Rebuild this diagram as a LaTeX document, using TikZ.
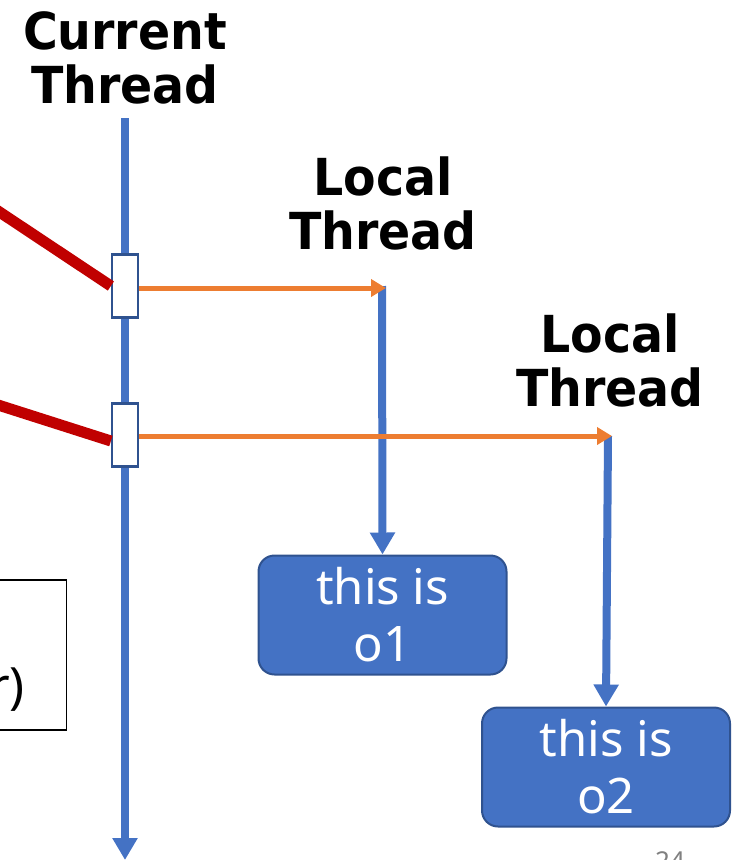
\documentclass[tikz,border=0pt]{standalone}
\usepackage{fontspec}
\setmainfont{Noto Sans}
\newfontfamily\titlefont{DejaVu Sans}[FakeStretch=0.93]
\usetikzlibrary{arrows.meta}
\definecolor{tblue}{HTML}{4472C4}
\definecolor{tdark}{HTML}{2F528F}
\definecolor{tred}{HTML}{C00000}
\definecolor{torange}{HTML}{ED7D31}
\tikzset{
  lifeline/.style={draw=tblue, line width=8pt},
  lifearrow/.style={lifeline, -{Triangle[length=22pt,width=24pt]}},
  actbox/.style={draw=tdark, fill=white, line width=2.2pt, minimum width=26pt, minimum height=63pt, inner sep=0pt},
  call/.style={draw=tred, line width=11pt},
  spawn/.style={draw=torange, line width=5pt, -{Triangle[length=15pt,width=17pt]}},
  title/.style={font=\titlefont\bfseries\fontsize{51}{54}\selectfont, align=center, inner sep=0pt},
  objbox/.style={draw=tdark, fill=tblue, line width=2pt, rounded corners=16pt, minimum width=248pt, minimum height=119pt, text=white, font=\fontsize{49}{57}\selectfont, align=center, inner sep=0pt},
}
\begin{document}
\begin{tikzpicture}[x=1pt,y=-1pt]
\useasboundingbox (0,0) rectangle (732,860);
\clip (0,0) rectangle (732,860);
% titles
\node[title] (ct) at (125,58) {Current\\Thread};
\node[title] (lt1) at (383,203) {Local\\Thread};
\node[title] (lt2) at (610,360) {Local\\Thread};
% left box (cut off)
\node[draw=black, line width=1.5pt, minimum width=120pt, minimum height=150pt, inner sep=0pt, anchor=east] (lb) at (67,655) {};
\node[font=\fontsize{50}{55}\selectfont, anchor=east, inner sep=0pt] (lbt) at (25,690) {r)};
% current thread lifeline
\coordinate (ctop) at (125,118);
\coordinate (cbot) at (125,860);
\draw[lifearrow] (ctop) -- (cbot);
% activation boxes
\node[actbox] (a1) at (125,286) {};
\node[actbox] (a2) at (125,435) {};
% red calls
\coordinate (r1) at (-5,209);
\coordinate (r2) at (-5,404);
\draw[call] (r1) -- (a1.west);
\draw[call] (r2) -- ([yshift=-6pt]a2.west);
% local thread lines
\coordinate (l1top) at (382,286);
\coordinate (l2top) at (608,436);
\node[objbox] (o1) at (382.5,615) {this is\\o1};
\node[objbox] (o2) at (606,767) {this is\\o2};
\draw[lifearrow] (l1top) -- (o1.north);
\draw[lifearrow] (l2top) -- (o2.north);
% spawn arrows
\draw[spawn] ([yshift=-2pt]a1.east) -- ([xshift=4pt,yshift=-2pt]l1top);
\draw[spawn] ([yshift=-1pt]a2.east) -- ([xshift=4pt]l2top);
% page number (cut off)
\node[text=gray, font=\fontsize{26}{30}\selectfont, anchor=north] (pg) at (670,848) {24};
\end{tikzpicture}
\end{document}
